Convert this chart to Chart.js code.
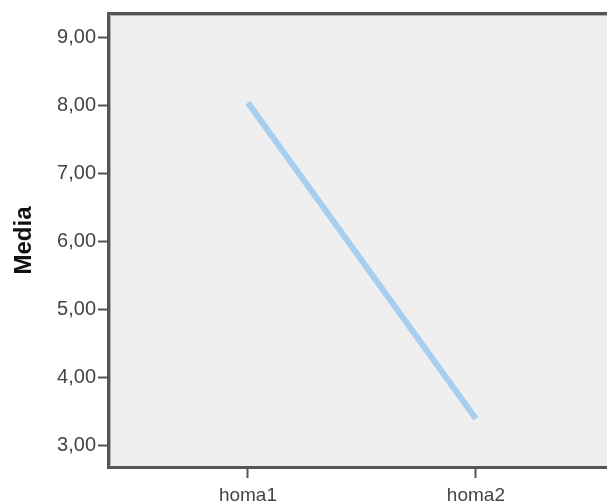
<!DOCTYPE html>
<html>
<head>
<meta charset="utf-8">
<script src="https://cdn.jsdelivr.net/npm/chart.js@4"></script>
<style>
html,body{margin:0;padding:0;background:#fff;overflow:hidden;}
#wrap{width:607px;height:504px;}
</style>
</head>
<body>
<div id="wrap"><canvas id="c" width="607" height="504"></canvas></div>
<script>
const categories = ["homa1", "homa2"];
const mediaValues = [8.04, 3.40];
const yTickValues = [3, 4, 5, 6, 7, 8, 9];

const points = categories.map((c, i) => ({x: i, y: mediaValues[i]}));

const framePlugin = {
  id: 'frame',
  beforeDatasetsDraw(chart) {
    const {ctx, chartArea: a} = chart;
    ctx.save();
    ctx.fillStyle = '#efefef';
    ctx.fillRect(a.left, a.top, a.right - a.left, a.bottom - a.top);
    ctx.restore();
  },
  afterDraw(chart) {
    const {ctx, chartArea: a} = chart;
    ctx.save();
    ctx.strokeStyle = '#555555';
    ctx.lineWidth = 3;
    ctx.beginPath();
    ctx.moveTo(a.right + 5, a.top - 1.5);
    ctx.lineTo(a.left - 1.5, a.top - 1.5);
    ctx.lineTo(a.left - 1.5, a.bottom + 1.5);
    ctx.lineTo(a.right + 5, a.bottom + 1.5);
    ctx.stroke();
    ctx.strokeStyle = '#b0b0b0';
    ctx.lineWidth = 1;
    ctx.beginPath();
    ctx.moveTo(a.right + 5, a.top + 0.5);
    ctx.lineTo(a.left + 0.5, a.top + 0.5);
    ctx.lineTo(a.left + 0.5, a.bottom - 0.5);
    ctx.stroke();
    ctx.restore();
  }
};

new Chart(document.getElementById('c'), {
  type: 'line',
  data: {
    datasets: [{
      data: points,
      borderColor: '#a7cdef',
      borderWidth: 6,
      pointRadius: 0,
      tension: 0,
      fill: false
    }]
  },
  options: {
    responsive: false,
    animation: false,
    plugins: {legend: {display: false}, tooltip: {enabled: false}},
    layout: {padding: {top: 15, right: 0, left: 0, bottom: 0}},
    scales: {
      x: {
        type: 'linear',
        min: -0.605,
        max: 1.575,
        afterBuildTicks(s) { s.ticks = categories.map((c, i) => ({value: i})); },
        afterFit(s) { s.height = 38; },
        grid: {drawOnChartArea: false, tickLength: 12, tickWidth: 2, tickColor: '#555555'},
        border: {display: false},
        ticks: {
          callback: (v) => categories[v] ?? '',
          color: '#444444',
          font: {family: 'Liberation Sans, Arial, sans-serif', size: 19},
          padding: 6,
          maxRotation: 0,
          autoSkip: false
        }
      },
      y: {
        min: 2.706,
        max: 9.327,
        afterBuildTicks(s) { s.ticks = yTickValues.map(v => ({value: v})); },
        afterFit(s) { s.width = 110; },
        grid: {drawOnChartArea: false, tickLength: 12, tickWidth: 2, tickColor: '#555555'},
        border: {display: false},
        ticks: {
          callback: (v) => v.toFixed(2).replace('.', ','),
          color: '#444444',
          font: {family: 'Liberation Sans, Arial, sans-serif', size: 20},
          padding: 2
        },
        title: {
          display: true,
          text: 'Media',
          color: '#111111',
          font: {family: 'Liberation Sans, Arial, sans-serif', size: 24, weight: 'bold'},
          padding: {top: 10, bottom: 0}
        }
      }
    }
  },
  plugins: [framePlugin]
});
</script>
</body>
</html>
